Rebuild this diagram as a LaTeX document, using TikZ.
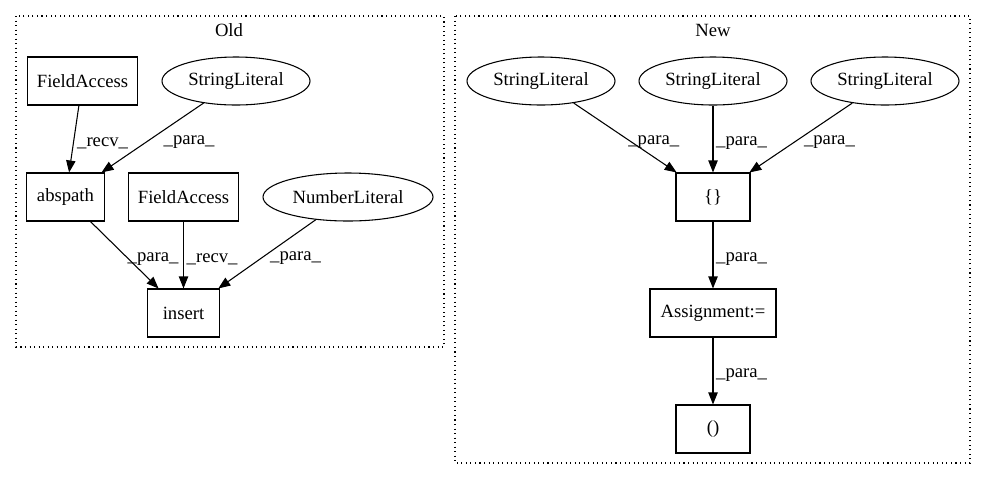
\documentclass[tikz,border=0pt]{standalone}
\usepackage{fontspec}
\setmainfont{Liberation Serif}
\usetikzlibrary{shapes.geometric, arrows.meta}
\tikzset{
  ->,
  >={Triangle[length=9pt,width=7pt]},
  node distance=87pt,
  every node/.style={font=\fontsize{14pt}{16pt}\selectfont},
  box/.style={draw, rectangle, line width=0.8pt, inner sep=0pt, minimum height=36pt},
  lit/.style={draw, ellipse, line width=0.8pt, inner sep=0pt, minimum height=36pt, minimum width=111pt},
  lab/.style={right, inner sep=2pt, yshift=-3pt},
  cluster/.style={-, line width=0.8pt, dash pattern=on 0.8pt off 2.6pt},
}

\begin{document}
\begin{tikzpicture}[x=0.75pt, y=-0.75pt, line width=0.8pt]
      \useasboundingbox (0,0) rectangle (988,480);

      % old version
      \draw[cluster] (16,16) rectangle (444,347);
      \node (oldlbl) at (229,30) {Old};
      \node[box, minimum width=83pt] (fa1) at (82.5,81) {FieldAccess};
      \node[lit] (sl0) at (236,81) {StringLiteral};
      \node[box, minimum width=58pt] (abspath) at (65.5,197) {abspath};
      \node[box, minimum width=83pt] (fa2) at (183.5,197) {FieldAccess};
      \node[lit, minimum width=127.5pt] (num) at (348,197) {NumberLiteral};
      \node[box, minimum width=54pt, below of=fa2] (insert) {insert};

      \draw (fa1) -- node[lab] {\_recv\_} (abspath);
      \draw (sl0) -- node[lab, xshift=6pt] {\_para\_} (abspath);
      \draw (abspath) -- node[lab] {\_para\_} (insert);
      \draw (fa2) -- node[lab] {\_recv\_} (insert);
      \draw (num) -- node[lab] {\_para\_} (insert);

      % new version
      \draw[cluster] (455,16) rectangle (970,463);
      \node (newlbl) at (713,30) {New};
      \node[lit] (sl2) at (713,81) {StringLiteral};
      \node[lit, left of=sl2, node distance=129pt] (sl1) {StringLiteral};
      \node[lit, right of=sl2, node distance=129pt] (sl3) {StringLiteral};
      \node[box, minimum width=55.5pt, below of=sl2] (brace) {\{\}};
      \node[box, minimum width=94.5pt, below of=brace] (assign) {Assignment:=};
      \node[box, minimum width=55.5pt, below of=assign] (paren) {()};

      \draw (sl1) -- node[lab] {\_para\_} (brace);
      \draw (sl2) -- node[lab] {\_para\_} (brace);
      \draw (sl3) -- node[lab] {\_para\_} (brace);
      \draw (brace) -- node[lab] {\_para\_} (assign);
      \draw (assign) -- node[lab] {\_para\_} (paren);
\end{tikzpicture}
\end{document}
